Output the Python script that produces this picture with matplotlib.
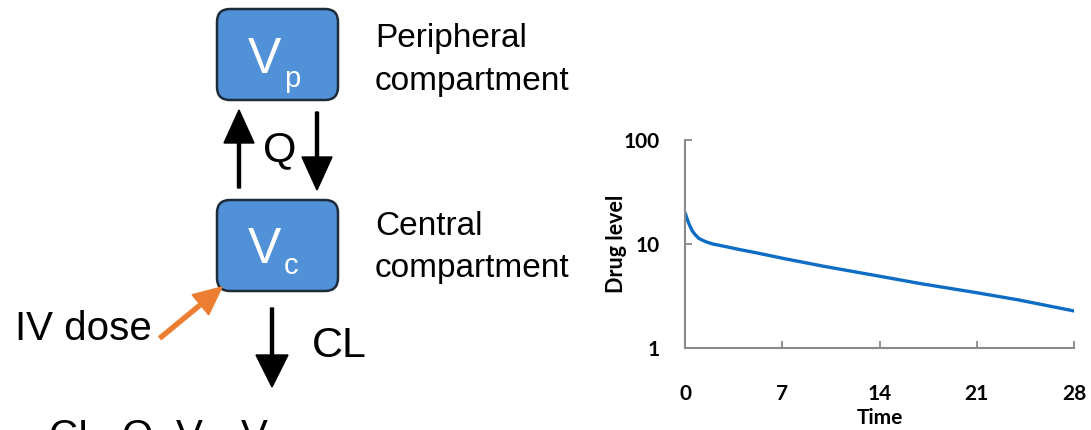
import matplotlib
matplotlib.use("Agg")
import matplotlib.pyplot as plt
from matplotlib.patches import FancyBboxPatch

plt.rcParams['mathtext.default'] = 'regular'

# drug level curve (two-compartment, IV bolus)
time_days = [0, 0.25, 0.5, 0.75, 1, 1.5, 2, 3, 4, 5, 7, 10, 14, 17, 21, 24, 28]
drug_level = [20, 16, 13.5, 12.2, 11.3, 10.5, 10.0, 9.4, 8.8, 8.3, 7.3, 6.1, 4.9, 4.15, 3.4, 2.9, 2.27]
x_ticks = [0, 7, 14, 21, 28]
y_ticks = [1, 10, 100]
y_ticklabels = ["1", "10", "100"]

SANS = ['Liberation Sans', 'DejaVu Sans']
BOLD = ['Lato', 'DejaVu Sans']

fig = plt.figure(figsize=(10.91, 4.30), dpi=100)

# ---- compartment diagram, drawn in pixel coordinates ----
ax0 = fig.add_axes([0, 0, 1, 1])
ax0.set_xlim(0, 1091)
ax0.set_ylim(430, 0)
ax0.axis('off')

box_fill = '#5091d8'
box_edge = '#1d2b3b'
for top in (9, 200):
    ax0.add_patch(FancyBboxPatch((217, top), 121, 91,
                                 boxstyle="round,pad=0,rounding_size=13",
                                 fc=box_fill, ec=box_edge, lw=1.8))

ax0.text(248, 73, "V", fontsize=36, color='white', family=SANS, va='baseline')
ax0.text(284, 87, "p", fontsize=21, color='white', family=SANS, va='baseline')
ax0.text(248, 263, "V", fontsize=36, color='white', family=SANS, va='baseline')
ax0.text(284, 274, "c", fontsize=21, color='white', family=SANS, va='baseline')

# exchange arrows
ax0.arrow(239, 188, 0, -78, width=3, head_width=30, head_length=33,
          length_includes_head=True, fc='black', ec='black')
ax0.arrow(317, 112, 0, 78, width=3, head_width=30, head_length=33,
          length_includes_head=True, fc='black', ec='black')
ax0.text(280, 150, "Q", fontsize=31, family=SANS, ha='center', va='center')

# elimination
ax0.arrow(272, 308, 0, 79, width=3, head_width=32, head_length=32,
          length_includes_head=True, fc='black', ec='black')
ax0.text(312, 357, "CL", fontsize=31, family=SANS, va='baseline')

# dose
ax0.arrow(160, 338, 62, -51, width=4, head_width=26, head_length=28,
          length_includes_head=True, fc='#ed7d31', ec='#ed7d31')
ax0.text(15, 340, "IV dose", fontsize=29, family=SANS, va='baseline')

ax0.text(375, 47, "Peripheral", fontsize=24, family=SANS, va='baseline')
ax0.text(375, 90, "compartment", fontsize=24, family=SANS, va='baseline')
ax0.text(375, 235, "Central", fontsize=24, family=SANS, va='baseline')
ax0.text(375, 277, "compartment", fontsize=24, family=SANS, va='baseline')

ax0.text(48, 448, "CL, Q, V$_c$, V$_p$", fontsize=29, family=SANS, va='baseline')

# ---- drug level plot ----
ax = fig.add_axes([0.6279, 0.1907, 0.3566, 0.4837])
ax.plot(time_days, drug_level, color='#0d6cc4', lw=2.4, solid_capstyle='round')
ax.set_yscale('log')
ax.set_ylim(1, 100)
ax.set_xlim(0, 28)
ax.set_xticks(x_ticks)
ax.set_yticks(y_ticks)
ax.set_yticklabels(y_ticklabels)
ax.minorticks_off()

for s in ('top', 'right'):
    ax.spines[s].set_visible(False)
for s in ('left', 'bottom'):
    ax.spines[s].set_color('#8a8a8a')
    ax.spines[s].set_linewidth(1.5)

ax.tick_params(axis='both', direction='in', length=5, width=1.3, color='#8a8a8a')
ax.tick_params(axis='x', pad=26)
ax.tick_params(axis='y', pad=18)
for lab in ax.get_xticklabels() + ax.get_yticklabels():
    lab.set_fontfamily(BOLD)
    lab.set_fontweight('bold')
    lab.set_fontsize(15)

ax.set_xlabel("Time", family=BOLD, fontweight='bold', fontsize=15, labelpad=3)
ax.set_ylabel("Drug level", family=BOLD, fontweight='bold', fontsize=15.5, labelpad=-2)

fig.savefig("out.png", dpi=100)
